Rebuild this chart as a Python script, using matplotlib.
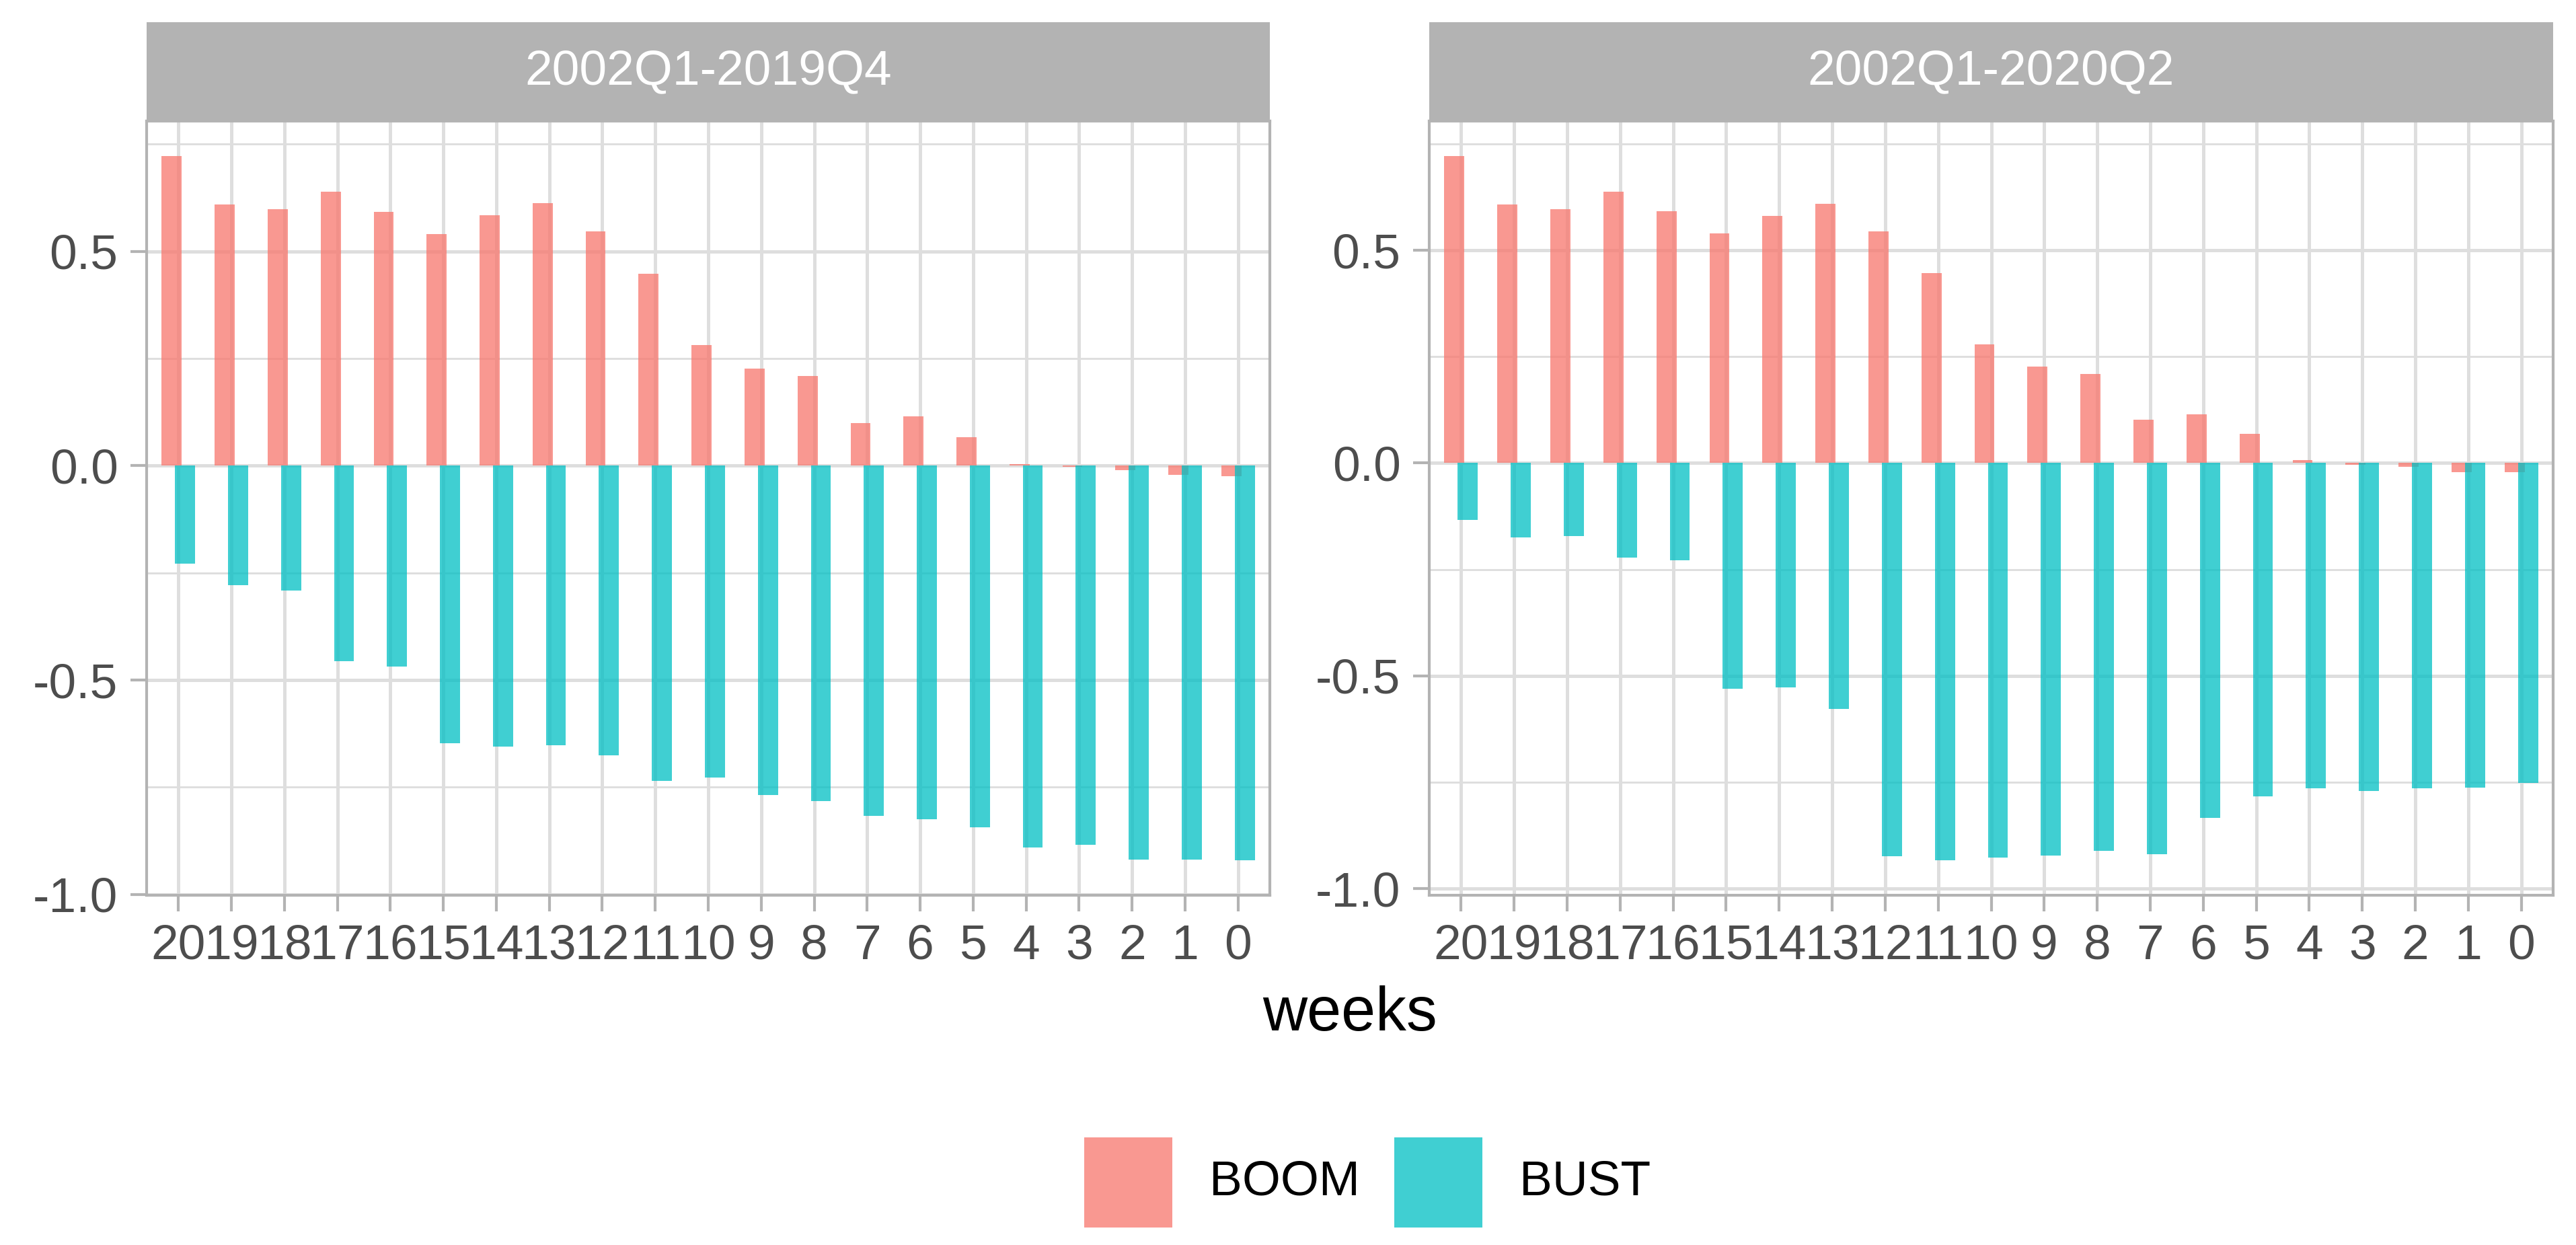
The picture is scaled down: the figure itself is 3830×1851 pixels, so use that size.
import numpy as np
import matplotlib; matplotlib.use('Agg')
import matplotlib.pyplot as plt
from matplotlib.patches import Rectangle

plt.rcParams['font.family'] = ['Liberation Sans', 'DejaVu Sans']

# --- data (two estimation windows) ---
WEEKS = list(range(20, -1, -1))
PANELS = ['2002Q1-2019Q4', '2002Q1-2020Q2']
BOOM_2019 = [0.722, 0.610, 0.598, 0.640, 0.593, 0.541, 0.584, 0.612, 0.546, 0.448, 0.281,
             0.226, 0.209, 0.100, 0.115, 0.067, 0.004, -0.002, -0.011, -0.021, -0.024]
BUST_2019 = [-0.228, -0.279, -0.291, -0.456, -0.469, -0.647, -0.656, -0.652, -0.675, -0.736, -0.727,
             -0.769, -0.782, -0.817, -0.825, -0.843, -0.891, -0.885, -0.919, -0.919, -0.920]
BOOM_2020 = [0.721, 0.608, 0.596, 0.638, 0.592, 0.540, 0.581, 0.610, 0.544, 0.446, 0.279,
             0.227, 0.209, 0.102, 0.115, 0.068, 0.007, -0.004, -0.008, -0.021, -0.022]
BUST_2020 = [-0.133, -0.174, -0.171, -0.222, -0.228, -0.530, -0.528, -0.578, -0.924, -0.933, -0.927,
             -0.922, -0.911, -0.919, -0.834, -0.783, -0.765, -0.770, -0.765, -0.763, -0.752]
SERIES = ['BOOM', 'BUST']
COLORS = {'BOOM': '#F8766D', 'BUST': '#00BFC4'}
ALPHA = 0.75

W, H, DPI = 3830, 1851, 600
fx = lambda px: px / W
fy = lambda py: 1 - py / H

GRID = '#DEDEDE'; BORDER = '#B3B3B3'; TXT = '#4D4D4D'

fig = plt.figure(figsize=(W / DPI, H / DPI), dpi=DPI)

panel_x = [(218, 1888), (2125, 3796)]
top, bot, strip_top = 180, 1331, 33
data = [(BOOM_2019, BUST_2019), (BOOM_2020, BUST_2020)]
x = np.arange(len(WEEKS))
bw, off = 0.378, 0.126

for (x0, x1), title, (boom, bust) in zip(panel_x, PANELS, data):
    ax = fig.add_axes([fx(x0), fy(bot), fx(x1) - fx(x0), (bot - top) / H])
    ax.bar(x - off, boom, width=bw, color=COLORS['BOOM'], alpha=ALPHA, lw=0)
    ax.bar(x + off, bust, width=bw, color=COLORS['BUST'], alpha=ALPHA, lw=0)
    vals = np.array(boom + bust + [0.0])
    lo, hi = vals.min(), vals.max()
    pad = 0.05 * (hi - lo)
    ax.set_ylim(lo - pad, hi + pad)
    ax.set_xlim(-0.6, len(WEEKS) - 0.4)
    ax.set_xticks(x)
    ax.set_xticklabels([str(w) for w in WEEKS])
    ax.set_yticks([-1.0, -0.5, 0.0, 0.5])
    ax.set_yticklabels(['-1.0', '-0.5', '0.0', '0.5'])
    ax.set_yticks([-0.75, -0.25, 0.25, 0.75], minor=True)
    ax.set_axisbelow(True)
    ax.grid(True, which='major', color=GRID, lw=0.6)
    ax.grid(True, which='minor', axis='y', color=GRID, lw=0.35)
    ax.tick_params(which='major', length=2.9, width=0.5, color=BORDER, labelcolor=TXT,
                   labelsize=8.8, pad=2.2)
    ax.tick_params(which='minor', length=0)
    for s in ax.spines.values():
        s.set_color(BORDER); s.set_linewidth(0.5)
    # facet strip
    sx = fig.add_axes([fx(x0), fy(top), fx(x1) - fx(x0), (top - strip_top) / H])
    sx.set_facecolor(BORDER)
    sx.set_xticks([]); sx.set_yticks([])
    for s in sx.spines.values():
        s.set_visible(False)
    sx.text(0.5, 0.5, title, color='white', fontsize=8.8, ha='center', va='center',
            transform=sx.transAxes)

fig.text(fx(2007), fy(1532), 'weeks', fontsize=11, ha='center', va='baseline', color='black')

# legend at bottom
keys = [(1612, 1798), (2073, 2259)]
for (kx, tx), name in zip(keys, SERIES):
    fig.patches.append(Rectangle((fx(kx), fy(1825)), fx(131), 134 / H, transform=fig.transFigure,
                                 facecolor=COLORS[name], alpha=ALPHA, lw=0))
    fig.text(fx(tx), fy(1758), name, fontsize=8.8, ha='left', va='center', color='black')

fig.savefig('out.png', dpi=DPI)
